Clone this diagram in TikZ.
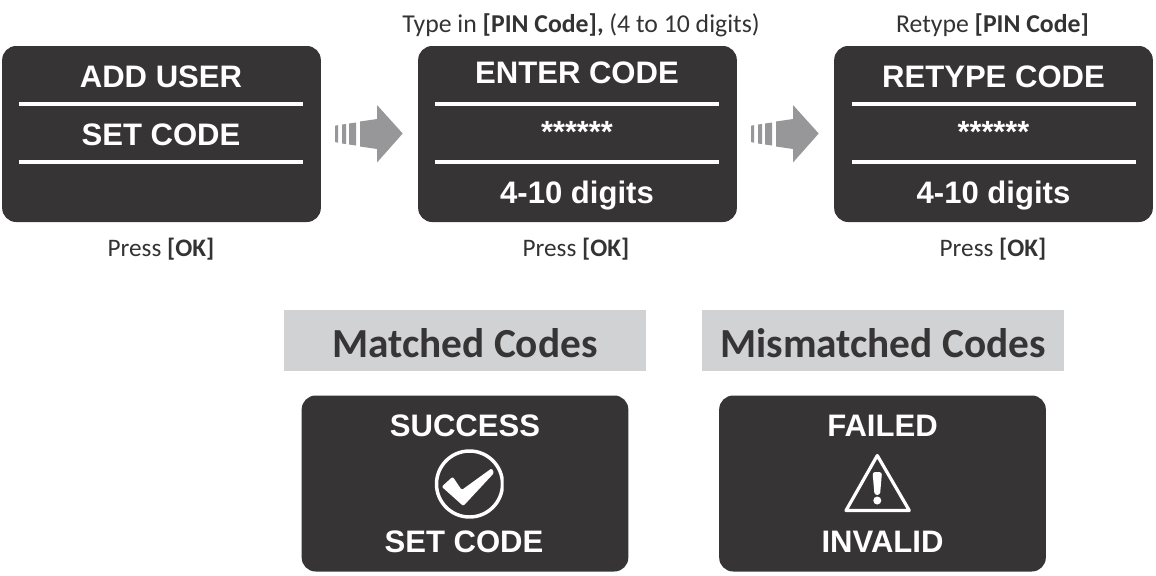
\documentclass[tikz,border=0pt]{standalone}
\usepackage{fontspec}
\setmainfont{Carlito}
\newfontfamily\lcdfont{Liberation Sans}
\definecolor{panel}{HTML}{373435}
\definecolor{arrowgrey}{HTML}{97979A}
\definecolor{headgrey}{HTML}{D1D2D3}
\definecolor{headtext}{HTML}{373435}
\definecolor{captext}{HTML}{333333}
\tikzset{
 screen/.style={fill=panel,draw=none,rounded corners=10.5pt,minimum width=239pt,minimum height=132pt,inner sep=0pt},
 lowscreen/.style={fill=panel,draw=none,rounded corners=10.5pt,minimum width=245pt,minimum height=132pt,inner sep=0pt},
 lcd/.style={text=white,font=\lcdfont\bfseries\fontsize{23.3}{25}\selectfont,inner sep=0pt,anchor=center},
 stars/.style={text=white,font=\lcdfont\bfseries\fontsize{23}{25}\selectfont,inner sep=0pt,anchor=center},
 rule/.style={draw=white,line width=3pt},
 caption/.style={text=captext,font=\fontsize{19.3}{22}\selectfont,inner sep=0pt,anchor=center},
 presscap/.style={text=captext,font=\fontsize{18.9}{22}\selectfont,inner sep=0pt,anchor=center},
 header/.style={fill=headgrey,text=headtext,font=\bfseries\fontsize{31}{36}\selectfont,minimum width=271.5pt,minimum height=45.5pt,inner sep=0pt,text height=25pt,text depth=0pt},
 flow/.style={fill=arrowgrey,draw=none},
}
\newcommand{\flowarrow}[1]{%
 \begin{scope}[shift={(#1,0)}]
 \fill[flow] (335,125.7) -- (338,125.2) -- (338,142.7) -- (335,142) -- cycle;
 \fill[flow] (342,124.5) -- (346,124) -- (346,144) -- (342,143.5) -- cycle;
 \fill[flow] (349,123.5) -- (356,122.5) -- (356,145.5) -- (349,144.5) -- cycle;
 \fill[flow] (360,121.5) -- (377,119) -- (377,105) -- (402.7,133.5) -- (377,162.5) -- (377,149) -- (360,146.5) -- cycle;
 \end{scope}}
\begin{document}
\begin{tikzpicture}[x=0.75pt,y=-0.75pt]
\useasboundingbox (0,0) rectangle (1156,575);
% screens
\node[screen] (s1) at (161.5,134) {};
\node[screen] (s2) at (577.5,134) {};
\node[screen] (s3) at (993.5,134) {};
\node[lowscreen] (s4) at (465,483.5) {};
\node[lowscreen] (s5) at (882.5,483.5) {};
% rules
\foreach \c in {161,577,993.5}{
 \draw[rule] (\c-142,103.5) -- (\c+142,103.5);
 \draw[rule] (\c-142,161.5) -- (\c+142,161.5);
}
% screen texts
\node[lcd] (t1) at (161,77) {ADD USER};
\node[lcd] (t2) at (161,135) {SET CODE};
\node[lcd] (t3) at (577,73) {ENTER CODE};
\node[stars] (t4) at (577,132) {******};
\node[lcd] (t5) at (577,196) {4-10 digits};
\node[lcd] (t6) at (993.5,77) {RETYPE CODE};
\node[stars] (t7) at (993.5,132) {******};
\node[lcd] (t8) at (993.5,196) {4-10 digits};
\node[lcd] (t9) at (465,426) {SUCCESS};
\node[lcd] (t10) at (464,542) {SET CODE};
\node[lcd] (t11) at (882.5,426) {FAILED};
\node[lcd] (t12) at (882.5,542) {INVALID};
% captions
\node[caption] (c1) at (581,25) {Type in \textbf{[PIN Code],} (4 to 10 digits)};
\node[caption] (c2) at (992.5,25) {Retype \textbf{[PIN Code]}};
\node[presscap] (c3) at (161,249) {Press \textbf{[OK]}};
\node[presscap] (c4) at (576,249) {Press \textbf{[OK]}};
\node[presscap] (c5) at (993,249) {Press \textbf{[OK]}};
% headers
\node[header] (h1) at (465,340.5) {Matched Codes};
\node[header] (h2) at (883,340.5) {Mismatched Codes};
% flow arrows
\flowarrow{0}
\flowarrow{416}
% success icon
\begin{scope}
 \clip (430,445) rectangle (503.5,522);
 \draw[white,line width=2.6pt] (469.5,484) circle[radius=33];
\end{scope}
\fill[white,rounded corners=1pt] (441.7,486.7) -- (452.7,476.7) -- (461.7,490) -- (491.7,468.3) -- (494,473) -- (463.3,506) -- cycle;
% warning icon
\draw[white,line width=2.4pt,line join=round] (877.3,455.5) -- (846,510.5) -- (909.3,510.5) -- cycle;
\fill[white,rounded corners=2pt] (872.5,472) -- (882,472) -- (880,495) -- (874.5,495) -- cycle;
\fill[white] (877.3,500.5) circle[radius=4];
\end{tikzpicture}
\end{document}
